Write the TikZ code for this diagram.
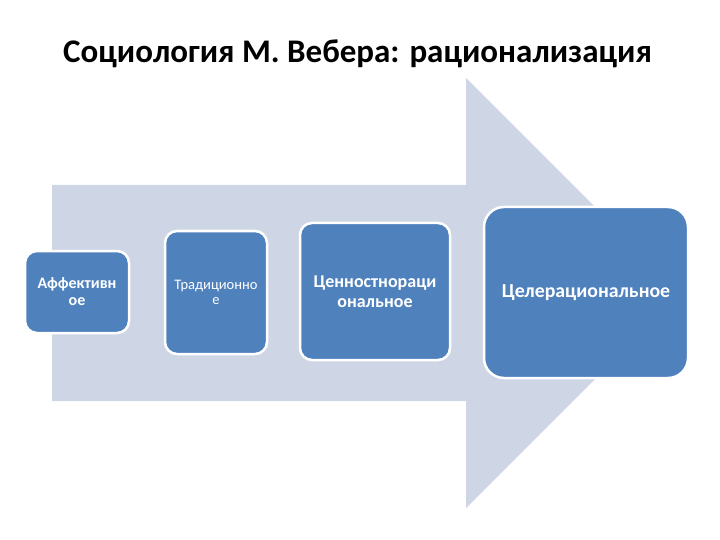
\documentclass[tikz,border=0pt]{standalone}
\usepackage{fontspec}
\setmainfont{Carlito}
\definecolor{arrowfill}{RGB}{206,213,229}
\definecolor{stagefill}{RGB}{79,129,189}
\tikzset{
  stagebox/.style={rectangle,rounded corners=12pt,draw=white,line width=2.5pt,
    fill=stagefill,text=white,align=center,font=\bfseries},
}
\begin{document}
\begin{tikzpicture}[x=1pt,y=-1pt]
				\useasboundingbox (0,0) rectangle (720,540);
				% background arrow
				\fill[arrowfill] (52,185) -- (466,185) -- (466,78) -- (681,293) -- (466,508) -- (466,401) -- (52,401) -- cycle;
				\node[anchor=base,font=\fontsize{33}{38}\selectfont\bfseries] (title) at (357.5,63) {Социология М. Вебера: рационализация};
				\node[stagebox,minimum width=104pt,minimum height=82pt,font=\fontsize{16}{17}\selectfont\bfseries] (affect) at (77,292) {Аффективн\\ое};
				\node[stagebox,minimum width=102pt,minimum height=123pt,font=\fontsize{14.5}{15}\selectfont] (tradit) at (216,292.5) {Традиционно\\е};
				\node[stagebox,minimum width=150pt,minimum height=137pt,font=\fontsize{18}{20}\selectfont\bfseries] (value) at (375,291.5) {Ценностнораци\\ональное};
				\node[stagebox,rounded corners=20pt,minimum width=204pt,minimum height=171pt,font=\fontsize{19.8}{22}\selectfont\bfseries] (goal) at (586,292.5) {Целерациональное};
			\end{tikzpicture}
\end{document}
